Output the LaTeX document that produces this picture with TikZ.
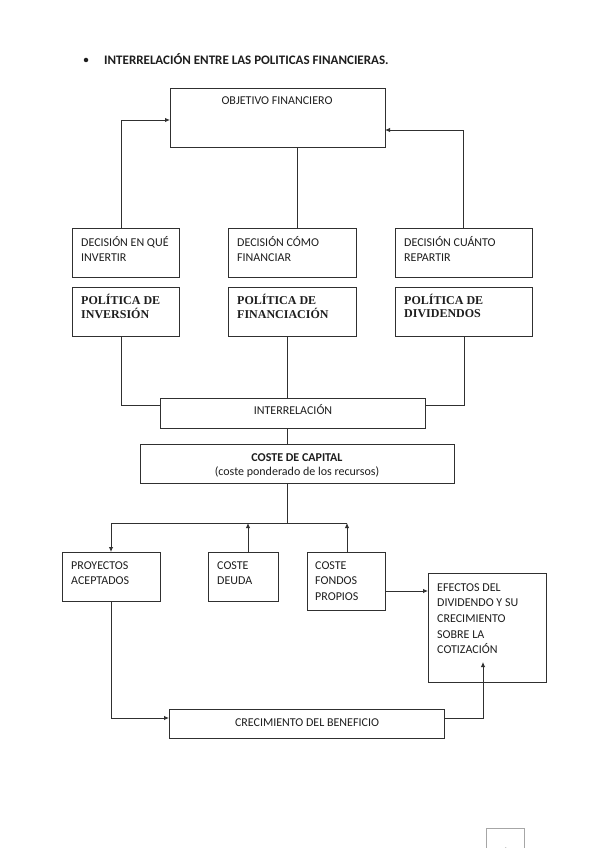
\documentclass[tikz,border=0pt]{standalone}
\usepackage{fontspec}
\setmainfont{Carlito}
\newfontfamily\tnr{Liberation Serif}
\usetikzlibrary{arrows.meta}
\definecolor{linec}{HTML}{303030}
\definecolor{textc}{HTML}{1E1E1E}
\newcommand{\mylines}[1]{\begin{tabular}[t]{@{}l@{}}#1\end{tabular}}
\newcommand{\bx}[5]{\node[box, minimum width={(#4-#2)*1pt}, minimum height={(#5-#3)*1pt}] (#1) at (#2,#3) {};}
\begin{document}
\begin{tikzpicture}[x=1pt,y=-1pt,
 box/.style={draw=linec, line width=0.9pt, anchor=north west, inner sep=0pt, outer sep=0pt},
 txt/.style={anchor=base west, inner sep=0pt, text=textc, font=\fontsize{12}{15.7}\selectfont},
 ctxt/.style={anchor=base, inner sep=0pt, text=textc, font=\fontsize{12}{15.7}\selectfont},
 pol/.style={anchor=base west, inner sep=0pt, text=textc, font=\tnr\bfseries\fontsize{12}{13}\selectfont},
 conn/.style={draw=linec, line width=0.9pt},
 arr/.style={conn, -{Latex[length=5pt,width=4.5pt]}}]
\useasboundingbox[fill=white] (0,0) rectangle (593,848);

% title
\node[circle, fill=textc, inner sep=0pt, minimum size=4.5pt] (bul) at (86,60) {};
\node[txt, font=\bfseries\fontsize{13}{15}\selectfont] (title) at (104,64.2) {INTERRELACIÓN ENTRE LAS POLITICAS FINANCIERAS.};

% boxes
\bx{obj}{170}{88}{385}{147}
\bx{dec1}{72}{228}{179}{277}
\bx{dec2}{228}{228}{356}{277}
\bx{dec3}{395}{228}{532}{277}
\bx{pol1}{72}{287}{179}{336}
\bx{pol2}{228}{287}{356}{336}
\bx{pol3}{395}{287}{532}{336}
\bx{inter}{160}{398}{425}{428}
\bx{coste}{140}{444}{454}{483}
\bx{proy}{62}{552}{160}{601}
\bx{deuda}{208}{552}{278}{601}
\bx{fondos}{307}{552}{385}{610}
\bx{efectos}{428}{573}{546}{682}
\bx{crec}{169}{709}{444}{738}

% texts
\node[ctxt] (tobj) at (277,105) {OBJETIVO FINANCIERO};
\node[txt] (tdec1) at (81,246) {\mylines{DECISIÓN EN QUÉ\\INVERTIR}};
\node[txt] (tdec2) at (237,246) {\mylines{DECISIÓN CÓMO\\FINANCIAR}};
\node[txt] (tdec3) at (404,246) {\mylines{DECISIÓN CUÁNTO\\REPARTIR}};
\node[pol] (tpol1) at (81,304) {\mylines{POLÍTICA DE\\INVERSIÓN}};
\node[pol] (tpol2) at (237,304) {\mylines{POLÍTICA DE\\FINANCIACIÓN}};
\node[pol] (tpol3) at (404,304) {\mylines{POLÍTICA DE\\DIVIDENDOS}};
\node[ctxt] (tinter) at (293,414) {INTERRELACIÓN};
\node[ctxt] (tcoste) at (297,461) {\textbf{COSTE DE CAPITAL}};
\node[ctxt] (tcoste2) at (297,475) {(coste ponderado de los recursos)};
\node[txt] (tproy) at (71,569) {\mylines{PROYECTOS\\ACEPTADOS}};
\node[txt] (tdeuda) at (217,569) {\mylines{COSTE\\DEUDA}};
\node[txt] (tfondos) at (315,569) {\mylines{COSTE\\FONDOS\\PROPIOS}};
\node[txt] (tefectos) at (437,591) {\mylines{EFECTOS DEL\\DIVIDENDO Y SU\\CRECIMIENTO\\SOBRE LA\\COTIZACIÓN}};
\node[ctxt] (tcrec) at (307,726) {CRECIMIENTO DEL BENEFICIO};

% helper coordinates
\coordinate (xa) at (121,0);
\coordinate (xc) at (463,0);
\coordinate (xm) at (297,0);
\coordinate (xp) at (287,0);
\coordinate (xr) at (464,0);
\coordinate (xq) at (111,0);
\coordinate (xd) at (248,0);
\coordinate (ya) at (0,120);
\coordinate (yc) at (0,130);
\coordinate (yi) at (0,405);
\coordinate (yf) at (0,591);
\coordinate (yb) at (0,718);
\coordinate (junc) at (287,523);
\coordinate (jr) at (347,523);
\coordinate (jl) at (111,523);
\coordinate (et) at (483,662);

% connectors
\draw[arr] (dec1.north -| xa) |- (obj.west |- ya);
\draw[arr] (dec3.north -| xc) |- (obj.east |- yc);
\draw[conn] (obj.south -| xm) -- (dec2.north -| xm);
\draw[conn] (pol1.south -| xa) |- (inter.west |- yi);
\draw[conn] (pol3.south -| xr) |- (inter.east |- yi);
\draw[conn] (pol2.south -| xp) -- (inter.north -| xp);
\draw[conn] (inter.south -| xp) -- (coste.north -| xp);
\draw[conn] (coste.south -| xp) -- (junc);
\draw[conn] (jl) -- (jr);
\draw[arr] (jl) -- (proy.north -| xq);
\draw[arr] (deuda.north -| xd) -- (xd |- junc);
\draw[arr] (fondos.north -| jr) -- (jr);
\draw[arr] (fondos.east |- yf) -- (efectos.west |- yf);
\draw[arr] (proy.south -| xq) |- (crec.west |- yb);
\draw[arr] (crec.east |- yb) -| (et);

% page number box (cut by the page edge)
\begin{scope}
\clip (0,0) rectangle (593,848);
\node[draw=black!35, line width=0.8pt, anchor=north west, minimum width=38pt, minimum height=40pt, inner sep=0pt] (pgbox) at (486,828) {};
\node[anchor=base, text=black!55, font=\fontsize{11}{13}\selectfont, inner sep=0pt] (pgnum) at (505,855) {6};
\end{scope}
\end{tikzpicture}
\end{document}
